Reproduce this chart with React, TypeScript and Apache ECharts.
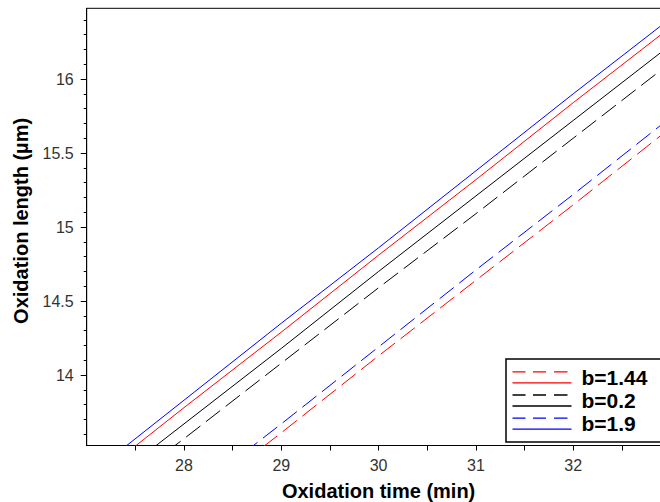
import React, { useEffect, useRef } from "react";
import * as echarts from "echarts";

// Oxidation time (min) at which values were read
const TIME = [27, 28, 29, 30, 31, 32, 33];
// Oxidation length (µm)
const B144_SOLID = [13.26, 13.78, 14.29, 14.81, 15.32, 15.84, 16.35];
const B144_DASHED = [null, 13.1, 13.61, 14.13, 14.64, 15.15, 15.67];
const B02_SOLID = [13.16, 13.67, 14.18, 14.7, 15.21, 15.72, 16.23];
const B02_DASHED = [13.07, 13.57, 14.08, 14.59, 15.09, 15.6, 16.11];
const B19_SOLID = [13.31, 13.83, 14.35, 14.86, 15.38, 15.9, 16.41];
const B19_DASHED = [null, 13.16, 13.67, 14.19, 14.71, 15.22, 15.74];

const LEGEND_NAMES = ["b=1.44", "b=0.2", "b=1.9"];
const X_LABELS = [28, 29, 30, 31, 32];
const X_TICKS = [27.5, 28, 28.5, 29, 29.5, 30, 30.5, 31, 31.5, 32, 32.5];
const Y_LABELS = [14, 14.5, 15, 15.5, 16];
const Y_MINOR_TICKS = [
  13.6, 13.7, 13.8, 13.9, 14.1, 14.2, 14.3, 14.4, 14.6, 14.7, 14.8, 14.9,
  15.1, 15.2, 15.3, 15.4, 15.6, 15.7, 15.8, 15.9, 16.1, 16.2, 16.3, 16.4,
];
const X_MIN = 27;
const X_MAX = 33;
const Y_MIN = 13.524;
const Y_MAX = 16.478;

const RED = "#ff0000";
const BLACK = "#000000";
const BLUE = "#0000ff";
const DASH = [18, 7];

const LEGEND_ICON =
  "path://M0,0h13v1.3H0z M20.5,0h13v1.3h-13z M41.5,0h13.5v1.3h-13.5z M0,11h59v1.3H0z";

function pairs(ys: (number | null)[]) {
  const out: number[][] = [];
  TIME.forEach((t, i) => {
    const v = ys[i];
    if (v != null) out.push([t, v]);
  });
  return out;
}

function lineSeries(name: string, ys: (number | null)[], color: string, dashed: boolean) {
  return {
    name,
    type: "line",
    data: pairs(ys),
    showSymbol: false,
    symbol: "none",
    clip: true,
    itemStyle: { color },
    lineStyle: { color, width: 1, type: dashed ? DASH : "solid" },
    emphasis: { disabled: true },
  };
}

export default function App() {
  const ref = useRef<HTMLDivElement>(null);

  useEffect(() => {
    if (!ref.current) return;
    const chart = echarts.init(ref.current, undefined, { renderer: "svg" });
    const font = "'Liberation Sans', Arial, Helvetica, sans-serif";
    chart.setOption({
      animation: false,
      backgroundColor: "#ffffff",
      textStyle: { fontFamily: font },
      grid: {
        left: 86.7,
        top: 8.3,
        width: 583.8,
        height: 437.2,
        show: true,
        borderColor: "#000",
        borderWidth: 1,
        backgroundColor: "transparent",
        containLabel: false,
        outerBoundsMode: "none",
      },
      legend: {
        orient: "vertical",
        left: 506,
        top: 359,
        padding: [7.3, 30, 7.3, 6.5],
        itemGap: 1.2,
        itemWidth: 59,
        itemHeight: 12.3,
        icon: LEGEND_ICON,
        borderColor: "#000",
        borderWidth: 1.5,
        borderRadius: 0,
        backgroundColor: "#fff",
        selectedMode: false,
        itemStyle: { borderWidth: 0 },
        textStyle: {
          fontFamily: font,
          fontSize: 21,
          fontWeight: "bold",
          color: "#000",
          lineHeight: 22,
          padding: [0, 0, 0, 5],
        },
        data: LEGEND_NAMES,
      },
      xAxis: {
        type: "value",
        min: X_MIN,
        max: X_MAX,
        position: "bottom",
        name: "Oxidation time (min)",
        nameLocation: "middle",
        nameGap: 35,
        nameTextStyle: { fontFamily: font, fontSize: 20, fontWeight: "bold", color: "#000" },
        axisLine: { show: true, onZero: false, lineStyle: { color: "#000", width: 1 } },
        axisTick: {
          show: true,
          inside: false,
          length: 5,
          customValues: X_TICKS,
          lineStyle: { color: "#000", width: 1 },
        },
        axisLabel: { customValues: X_LABELS, margin: 12, fontSize: 16, color: "#333", fontFamily: font },
        splitLine: { show: false },
      },
      yAxis: [
        {
          type: "value",
          min: Y_MIN,
          max: Y_MAX,
          position: "left",
          name: "Oxidation length (µm)",
          nameLocation: "middle",
          nameGap: 56,
          nameTextStyle: {
            fontFamily: font,
            fontSize: 20,
            fontWeight: "bold",
            color: "#000",
            padding: [0, 0, 0, 12],
          },
          axisLine: { show: true, onZero: false, lineStyle: { color: "#000", width: 1 } },
          axisTick: {
            show: true,
            inside: false,
            length: 6,
            customValues: Y_LABELS,
            lineStyle: { color: "#000", width: 1 },
          },
          axisLabel: { customValues: Y_LABELS, margin: 13, fontSize: 16, color: "#333", fontFamily: font },
          splitLine: { show: false },
        },
        {
          type: "value",
          min: Y_MIN,
          max: Y_MAX,
          position: "left",
          offset: 0,
          axisLine: { show: false },
          axisTick: {
            show: true,
            inside: false,
            length: 3,
            customValues: Y_MINOR_TICKS,
            lineStyle: { color: "#000", width: 1 },
          },
          axisLabel: { show: false },
          splitLine: { show: false },
        },
      ],
      series: [
        lineSeries("b=1.44", B144_SOLID, RED, false),
        lineSeries("b=1.44", B144_DASHED, RED, true),
        lineSeries("b=0.2", B02_SOLID, BLACK, false),
        lineSeries("b=0.2", B02_DASHED, BLACK, true),
        lineSeries("b=1.9", B19_SOLID, BLUE, false),
        lineSeries("b=1.9", B19_DASHED, BLUE, true),
      ],
    });
    return () => chart.dispose();
  }, []);

  return (
    <div
      ref={ref}
      style={{ position: "fixed", left: 0, top: 0, width: 660, height: 502, background: "#fff" }}
    />
  );
}
